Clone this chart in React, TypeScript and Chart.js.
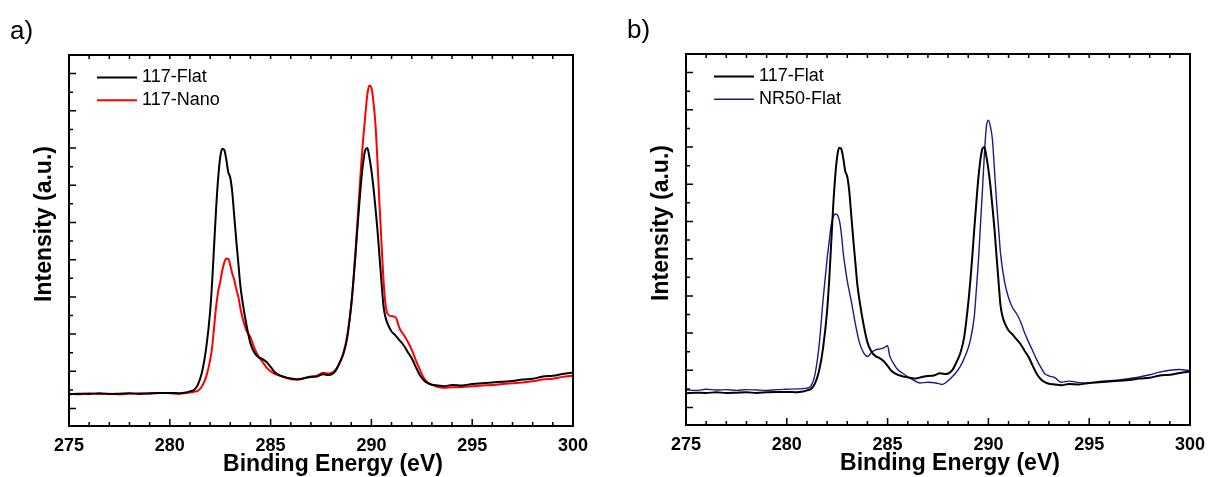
import { Chart, registerables, ChartConfiguration, Plugin } from "chart.js";
import { useEffect, useRef } from "react";

Chart.register(...registerables);

// Binding energy (eV) grid shared by 117-Flat and 117-Nano
const energyA = [
  275, 275.5, 276, 276.5, 277, 277.5, 278, 278.5, 279, 279.5, 280, 280.5, 280.8, 281.0, 281.2, 281.4, 281.6, 281.8,
  282.0, 282.1, 282.2, 282.3, 282.4, 282.5, 282.6, 282.7, 282.8, 282.9, 283.0, 283.1, 283.2, 283.3, 283.4, 283.5,
  283.6, 283.8, 284.0, 284.2, 284.4, 284.6, 284.8, 285.0, 285.2, 285.5, 285.8, 286.1, 286.4, 286.7, 287.0, 287.3,
  287.6, 287.9, 288.2, 288.4, 288.6, 288.8, 289.0, 289.1, 289.2, 289.3, 289.4, 289.5, 289.6, 289.7, 289.8, 289.9,
  290.0, 290.1, 290.2, 290.3, 290.4, 290.5, 290.6, 290.7, 290.8, 291.0, 291.2, 291.4, 291.6, 291.8, 292.0, 292.2,
  292.4, 292.6, 292.8, 293.0, 293.3, 293.6, 294.0, 294.5, 295.0, 295.5, 296.0, 296.5, 297.0, 297.5, 298.0, 298.5,
  299.0, 299.5, 300.0,
];

const flat117 = [
  1.38, 1.40, 1.39, 1.41, 1.39, 1.40, 1.41, 1.39, 1.41, 1.42, 1.42, 1.41, 1.43, 1.46, 1.50, 1.65, 1.98, 2.60,
  3.60, 4.40, 5.40, 6.40, 7.20, 7.75, 7.98, 7.95, 7.70, 7.35, 7.20, 6.80, 6.15, 5.50, 4.90, 4.30,
  3.90, 3.25, 2.75, 2.50, 2.38, 2.33, 2.25, 2.12, 1.98, 1.88, 1.83, 1.80, 1.78, 1.82, 1.85, 1.86,
  1.92, 1.90, 2.00, 2.20, 2.45, 2.90, 3.80, 4.38, 5.05, 5.80, 6.50, 7.15, 7.65, 7.95, 8.00, 7.75,
  7.40, 6.95, 6.40, 5.80, 5.10, 4.40, 3.75, 3.45, 3.28, 3.07, 2.96, 2.83, 2.70, 2.52, 2.35, 2.12,
  1.90, 1.76, 1.68, 1.64, 1.62, 1.60, 1.63, 1.62, 1.66, 1.68, 1.70, 1.72, 1.74, 1.78, 1.80, 1.86,
  1.88, 1.93, 1.97,
];

const nano117 = [
  1.40, 1.38, 1.41, 1.39, 1.40, 1.38, 1.40, 1.41, 1.40, 1.42, 1.41, 1.40, 1.42, 1.43, 1.45, 1.48, 1.60, 1.85,
  2.30, 2.65, 3.20, 3.75, 4.15, 4.40, 4.70, 4.92, 5.03, 5.02, 4.85, 4.62, 4.45, 4.20, 4.00, 3.70,
  3.45, 3.10, 2.92, 2.62, 2.40, 2.25, 2.10, 2.00, 1.93, 1.87, 1.82, 1.78, 1.79, 1.82, 1.86, 1.88,
  1.96, 1.94, 2.02, 2.20, 2.48, 2.95, 3.75, 4.40, 5.15, 5.95, 6.80, 7.60, 8.30, 8.90, 9.45, 9.68,
  9.62, 9.25, 8.65, 7.65, 6.50, 5.45, 4.45, 3.80, 3.55, 3.48, 3.45, 3.15, 2.98, 2.80, 2.58, 2.30,
  2.05, 1.82, 1.70, 1.64, 1.58, 1.56, 1.57, 1.58, 1.60, 1.62, 1.63, 1.66, 1.68, 1.70, 1.73, 1.78,
  1.80, 1.85, 1.88,
];

// Binding energy (eV) grid for NR50-Flat
const energyNR50 = [
  275, 275.5, 276, 276.5, 277, 277.5, 278, 278.5, 279, 279.5, 280, 280.5, 281.0, 281.2, 281.4, 281.6, 281.8,
  282.0, 282.1, 282.2, 282.3, 282.4, 282.5, 282.6, 282.7, 282.8, 282.9, 283.0, 283.2, 283.4, 283.6, 283.8,
  284.0, 284.2, 284.4, 284.6, 284.8, 285.0, 285.1, 285.3, 285.5, 285.8, 286.2, 286.6, 287.0, 287.4, 287.7,
  288.0, 288.3, 288.6, 288.9, 289.1, 289.3, 289.4, 289.5, 289.6, 289.7, 289.8, 289.9, 290.0, 290.1, 290.2,
  290.3, 290.4, 290.5, 290.6, 290.8, 291.0, 291.2, 291.4, 291.6, 291.8, 292.0, 292.2, 292.4, 292.6, 292.8,
  293.0, 293.3, 293.6, 294.0, 294.5, 295.0, 295.5, 296.0, 296.5, 297.0, 297.5, 298.0, 298.5, 299.0, 299.5, 300.0,
];

const nr50Flat = [
  1.47, 1.46, 1.49, 1.47, 1.48, 1.46, 1.48, 1.47, 1.46, 1.48, 1.49, 1.50, 1.52, 1.58, 1.90, 2.65, 3.90,
  5.00, 5.45, 5.90, 6.12, 6.20, 6.18, 6.05, 5.70, 5.15, 4.75, 4.40, 3.85, 3.25, 2.75, 2.48,
  2.37, 2.48, 2.55, 2.57, 2.60, 2.66, 2.40, 2.18, 2.02, 1.90, 1.76, 1.66, 1.68, 1.66, 1.62,
  1.72, 1.88, 2.10, 2.45, 2.80, 3.45, 4.15, 4.90, 5.85, 6.80, 7.80, 8.55, 8.72, 8.55, 8.20,
  7.40, 6.56, 5.85, 5.15, 4.38, 3.95, 3.68, 3.52, 3.30, 3.00, 2.75, 2.52, 2.28, 2.08, 1.91,
  1.85, 1.80, 1.68, 1.71, 1.67, 1.66, 1.70, 1.72, 1.74, 1.78, 1.82, 1.88, 1.95, 2.00, 2.02, 1.99,
];

const xMajorTicks = [275, 280, 285, 290, 295, 300];
const yMajorTicks = [1, 2, 3, 4, 5, 6, 7, 8, 9, 10];
const yMinorTicks = [1.5, 2.5, 3.5, 4.5, 5.5, 6.5, 7.5, 8.5, 9.5];
const xTitle = "Binding Energy (eV)";
const yTitle = "Intensity (a.u.)";

interface Series {
  label: string;
  energy: number[];
  values: number[];
  color: string;
  width: number;
}

const FONT = '"Liberation Sans", Arial, sans-serif';

function framePlugin(panelLabel: string, series: Series[]): Plugin<"line"> {
  return {
    id: "frame",
    afterDraw(chart) {
      const { ctx, chartArea, scales } = chart;
      const { left, right, top, bottom } = chartArea;
      const x = scales.x;
      const y = scales.y;
      ctx.save();
      ctx.strokeStyle = "#000";
      ctx.lineWidth = 1.5;
      ctx.beginPath();
      // inward ticks on bottom (major/minor) and top (minor)
      for (let e = xMajorTicks[0]; e <= xMajorTicks[xMajorTicks.length - 1]; e += 1) {
        const px = x.getPixelForValue(e);
        const len = xMajorTicks.includes(e) ? 7 : 4;
        ctx.moveTo(px, bottom);
        ctx.lineTo(px, bottom - len);
        ctx.moveTo(px, top);
        ctx.lineTo(px, top + 4);
      }
      for (const v of yMajorTicks) {
        const py = y.getPixelForValue(v);
        ctx.moveTo(left, py);
        ctx.lineTo(left + 7, py);
      }
      for (const v of yMinorTicks) {
        const py = y.getPixelForValue(v);
        ctx.moveTo(left, py);
        ctx.lineTo(left + 4, py);
      }
      ctx.stroke();
      ctx.lineWidth = 2;
      ctx.strokeRect(left, top, right - left, bottom - top);

      // legend
      ctx.font = `18px ${FONT}`;
      ctx.textAlign = "left";
      ctx.textBaseline = "middle";
      ctx.fillStyle = "#000";
      series.forEach((s, i) => {
        const ly = top + 22.5 + i * 22.7;
        ctx.strokeStyle = s.color;
        ctx.lineWidth = s.width;
        ctx.beginPath();
        ctx.moveTo(left + 28, ly);
        ctx.lineTo(left + 68, ly);
        ctx.stroke();
        ctx.fillText(s.label, left + 73, ly);
      });

      // axis titles
      ctx.font = `bold 23px ${FONT}`;
      ctx.textAlign = "center";
      ctx.textBaseline = "alphabetic";
      ctx.fillText(xTitle, (left + right) / 2 + 12, 471);
      ctx.save();
      ctx.translate(51, 224);
      ctx.rotate(-Math.PI / 2);
      ctx.fillText(yTitle, 0, 0);
      ctx.restore();

      // panel label
      ctx.font = `26px ${FONT}`;
      ctx.textAlign = "left";
      ctx.fillText(panelLabel, 10, 39);
      ctx.restore();
    },
  };
}

function Panel({ panelLabel, series }: { panelLabel: string; series: Series[] }) {
  const canvasRef = useRef<HTMLCanvasElement | null>(null);
  useEffect(() => {
    const context = canvasRef.current?.getContext("2d");
    if (!context) return;
    const config: ChartConfiguration<"line"> = {
      type: "line",
      data: {
        datasets: series.map((s) => ({
          label: s.label,
          data: s.energy.map((e, i) => ({ x: e, y: s.values[i] })),
          borderColor: s.color,
          borderWidth: s.width,
          pointRadius: 0,
          cubicInterpolationMode: "monotone",
          fill: false,
        })),
      },
      options: {
        animation: false,
        responsive: true,
        maintainAspectRatio: false,
        layout: { padding: { top: 55, right: 31, left: 0, bottom: 0 } },
        plugins: { legend: { display: false }, tooltip: { enabled: false } },
        scales: {
          x: {
            type: "linear",
            min: 275,
            max: 300,
            afterBuildTicks: (axis) => {
              axis.ticks = xMajorTicks.map((v) => ({ value: v }));
            },
            afterFit: (axis) => {
              axis.height = 51;
            },
            ticks: {
              color: "#000",
              padding: 9,
              maxRotation: 0,
              font: { family: FONT, size: 18, weight: "bold" },
            },
            grid: { display: false, drawTicks: false },
            border: { display: false },
          },
          y: {
            type: "linear",
            min: 0.53,
            max: 10.5,
            afterFit: (axis) => {
              axis.width = 69;
            },
            ticks: { display: false },
            grid: { display: false, drawTicks: false },
            border: { display: false },
          },
        },
      },
      plugins: [framePlugin(panelLabel, series)],
    };
    const chartInstance = new Chart(context, config);
    return () => {
      chartInstance.destroy();
    };
  }, [panelLabel, series]);
  return <canvas ref={canvasRef} />;
}

const seriesA: Series[] = [
  { label: "117-Flat", energy: energyA, values: flat117, color: "#000000", width: 2 },
  { label: "117-Nano", energy: energyA, values: nano117, color: "#ff0000", width: 2 },
];

const seriesB: Series[] = [
  { label: "117-Flat", energy: energyA, values: flat117, color: "#000000", width: 2 },
  { label: "NR50-Flat", energy: energyNR50, values: nr50Flat, color: "#1a1a8c", width: 1.4 },
];

export default function App() {
  return (
    <div style={{ position: "fixed", left: 0, top: 0, width: 1209, height: 477, background: "#fff" }}>
      <div style={{ position: "absolute", left: 0, top: 0, width: 604, height: 477 }}>
        <Panel panelLabel="a)" series={seriesA} />
      </div>
      <div style={{ position: "absolute", left: 617, top: -1, width: 604, height: 477 }}>
        <Panel panelLabel="b)" series={seriesB} />
      </div>
    </div>
  );
}
